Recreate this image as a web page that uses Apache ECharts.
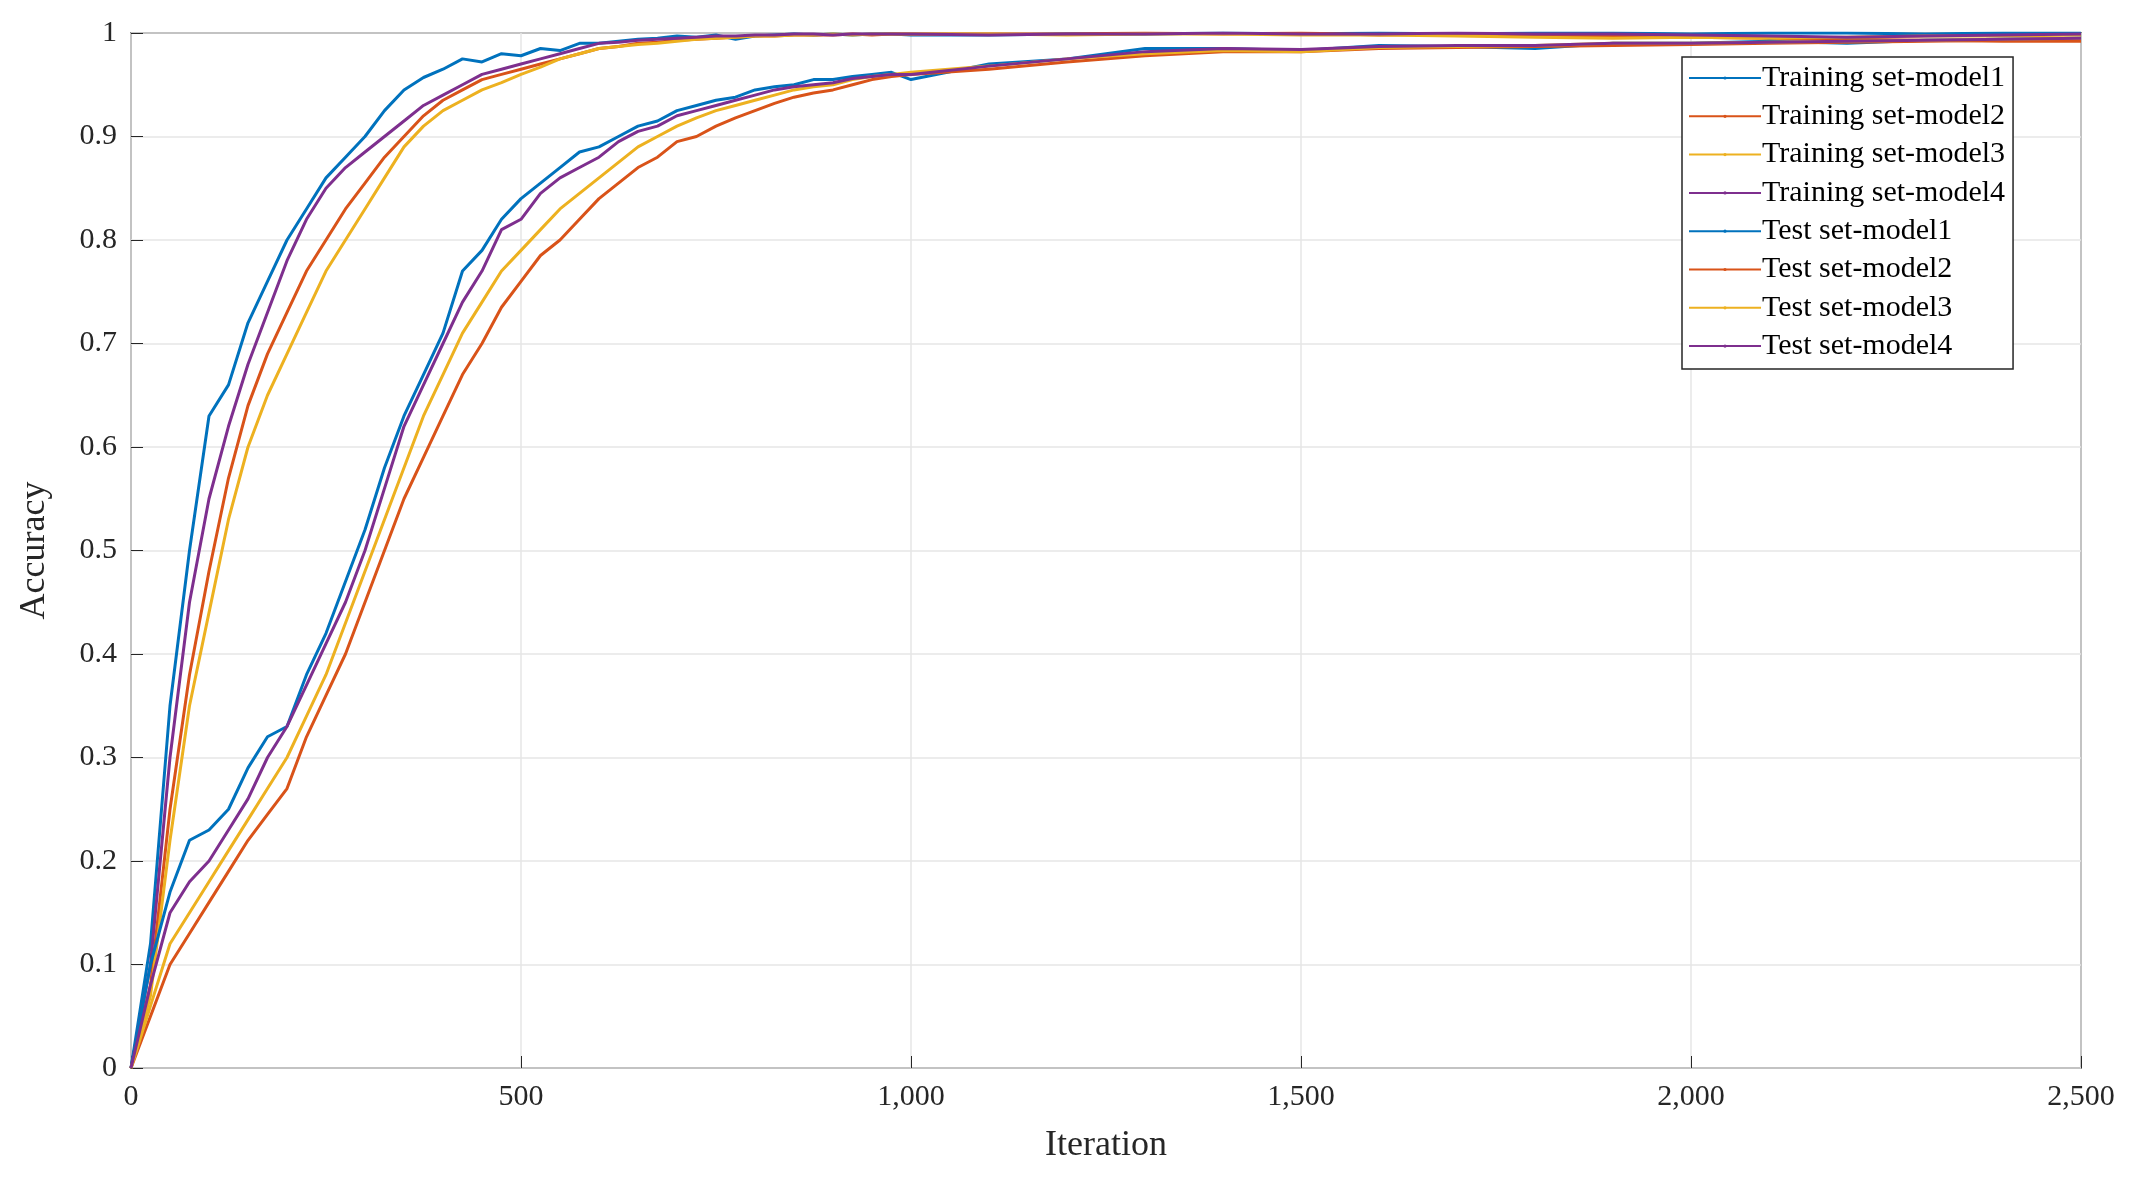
<!DOCTYPE html>
<html><head><meta charset="utf-8">
<script src="https://cdn.jsdelivr.net/npm/echarts@6/dist/echarts.min.js"></script>
<style>html,body{margin:0;padding:0;background:#fff}#c{width:2137px;height:1177px}</style>
</head><body><div id="c"></div>
<script>
var iterations = [0,25,50,75,100,125,150,175,200,225,250,275,300,325,350,375,400,425,450,475,500,525,550,575,600,625,650,675,700,725,750,775,800,825,850,875,900,925,950,975,1000,
1100,1200,1300,1400,1500,1600,1700,1800,1900,2000,2100,2200,2300,2400,2500];
var trainM1 = [0,0.12,0.35,0.5,0.63,0.66,0.72,0.76,0.8,0.83,0.86,0.88,0.9,0.925,0.945,0.957,0.965,0.975,0.972,0.98,0.978,0.985,0.983,0.99,0.99,0.992,0.994,0.995,0.997,0.996,0.998,0.994,0.997,0.998,0.999,0.998,0.999,0.998,0.999,0.999,0.998,
0.998,0.999,0.999,1,0.999,1,0.999,1,1,0.999,1,1,0.999,1,1];
var trainM2 = [0,0.08,0.25,0.38,0.48,0.57,0.64,0.69,0.73,0.77,0.8,0.83,0.855,0.88,0.9,0.92,0.935,0.945,0.955,0.96,0.965,0.97,0.975,0.98,0.985,0.987,0.99,0.991,0.993,0.994,0.995,0.996,0.997,0.997,0.998,0.998,0.998,0.999,0.998,0.999,0.999,
0.999,0.999,1,0.999,1,0.998,0.999,0.998,0.997,0.996,0.995,0.994,0.993,0.992,0.992];
var trainM3 = [0,0.07,0.22,0.35,0.44,0.53,0.6,0.65,0.69,0.73,0.77,0.8,0.83,0.86,0.89,0.91,0.925,0.935,0.945,0.952,0.96,0.967,0.975,0.98,0.985,0.987,0.989,0.99,0.992,0.994,0.995,0.996,0.997,0.997,0.998,0.998,0.999,0.998,0.999,0.999,0.999,
0.999,0.998,0.999,0.999,0.998,0.998,0.997,0.996,0.995,0.996,0.995,0.996,0.997,0.997,0.998];
var trainM4 = [0,0.1,0.3,0.45,0.55,0.62,0.68,0.73,0.78,0.82,0.85,0.87,0.885,0.9,0.915,0.93,0.94,0.95,0.96,0.965,0.97,0.975,0.98,0.985,0.99,0.991,0.993,0.994,0.995,0.996,0.997,0.997,0.998,0.998,0.999,0.999,0.998,0.999,0.999,0.999,0.999,
0.998,0.999,0.999,1,0.999,0.999,1,0.999,0.999,0.998,0.997,0.996,0.997,0.998,0.999];
var testM1 = [0,0.1,0.17,0.22,0.23,0.25,0.29,0.32,0.33,0.38,0.42,0.47,0.52,0.58,0.63,0.67,0.71,0.77,0.79,0.82,0.84,0.855,0.87,0.885,0.89,0.9,0.91,0.915,0.925,0.93,0.935,0.938,0.945,0.948,0.95,0.955,0.955,0.958,0.96,0.962,0.955,
0.97,0.975,0.985,0.985,0.983,0.988,0.987,0.985,0.99,0.99,0.992,0.99,0.993,0.994,0.995];
var testM2 = [0,0.05,0.1,0.13,0.16,0.19,0.22,0.245,0.27,0.32,0.36,0.4,0.45,0.5,0.55,0.59,0.63,0.67,0.7,0.735,0.76,0.785,0.8,0.82,0.84,0.855,0.87,0.88,0.895,0.9,0.91,0.918,0.925,0.932,0.938,0.942,0.945,0.95,0.955,0.958,0.96,
0.965,0.972,0.978,0.982,0.982,0.985,0.986,0.987,0.988,0.989,0.99,0.991,0.992,0.993,0.994];
var testM3 = [0,0.06,0.12,0.15,0.18,0.21,0.24,0.27,0.3,0.34,0.38,0.43,0.48,0.53,0.58,0.63,0.67,0.71,0.74,0.77,0.79,0.81,0.83,0.845,0.86,0.875,0.89,0.9,0.91,0.918,0.925,0.93,0.935,0.94,0.945,0.948,0.95,0.955,0.958,0.96,0.962,
0.968,0.975,0.98,0.983,0.982,0.986,0.987,0.988,0.99,0.99,0.991,0.992,0.993,0.994,0.995];
var testM4 = [0,0.08,0.15,0.18,0.2,0.23,0.26,0.3,0.33,0.37,0.41,0.45,0.5,0.56,0.62,0.66,0.7,0.74,0.77,0.81,0.82,0.845,0.86,0.87,0.88,0.895,0.905,0.91,0.92,0.925,0.93,0.935,0.94,0.945,0.948,0.95,0.952,0.956,0.958,0.96,0.96,
0.968,0.975,0.982,0.985,0.984,0.987,0.988,0.988,0.99,0.99,0.991,0.992,0.993,0.994,0.995];
var seriesNames = ['Training set-model1','Training set-model2','Training set-model3','Training set-model4','Test set-model1','Test set-model2','Test set-model3','Test set-model4'];
var colors = ['#0072BD','#D95319','#EDB120','#7E2F8E','#0072BD','#D95319','#EDB120','#7E2F8E'];
var allData = [trainM1,trainM2,trainM3,trainM4,testM1,testM2,testM3,testM4];
var F = 'Liberation Serif, Times New Roman, serif';
var chart = echarts.init(document.getElementById('c'));
chart.setOption({
  animation:false,
  grid:{left:131,right:56,top:33,bottom:109,show:true,borderColor:'#262626',borderWidth:1.5},
  legend:{orient:'vertical',left:1682,top:57,width:375,data:seriesNames,backgroundColor:'#fff',borderColor:'#262626',borderWidth:1.5,
    padding:[6,8,8,6],itemGap:8.3,itemWidth:72,itemHeight:4,textStyle:{fontFamily:F,fontSize:30,color:'#000',padding:[0,0,0,-4]}},
  xAxis:{type:'value',min:0,max:2500,interval:500,name:'Iteration',nameLocation:'middle',nameGap:60,
    nameTextStyle:{fontFamily:F,fontSize:36,color:'#262626'},
    axisLine:{show:false},axisTick:{inside:true,length:12,lineStyle:{color:'#262626'}},
    axisLabel:{fontFamily:F,fontSize:30,color:'#262626',margin:14},
    splitLine:{lineStyle:{color:'#e6e6e6',width:1.5}}},
  yAxis:{type:'value',min:0,max:1,interval:0.1,name:'Accuracy',nameLocation:'middle',nameGap:78,
    nameTextStyle:{fontFamily:F,fontSize:36,color:'#262626'},
    axisLine:{show:false},axisTick:{inside:true,length:12,lineStyle:{color:'#262626'}},
    axisLabel:{fontFamily:F,fontSize:30,color:'#262626',margin:14,formatter:function(v){return +v.toFixed(1)+'';}},
    splitLine:{lineStyle:{color:'#e6e6e6',width:1.5}}},
  series:allData.map(function(d,i){return {name:seriesNames[i],type:'line',symbol:'none',
    data:d.map(function(v,j){return [iterations[j],v];}),
    lineStyle:{width:3,color:colors[i]},itemStyle:{color:colors[i]}};})
});
</script></body></html>
